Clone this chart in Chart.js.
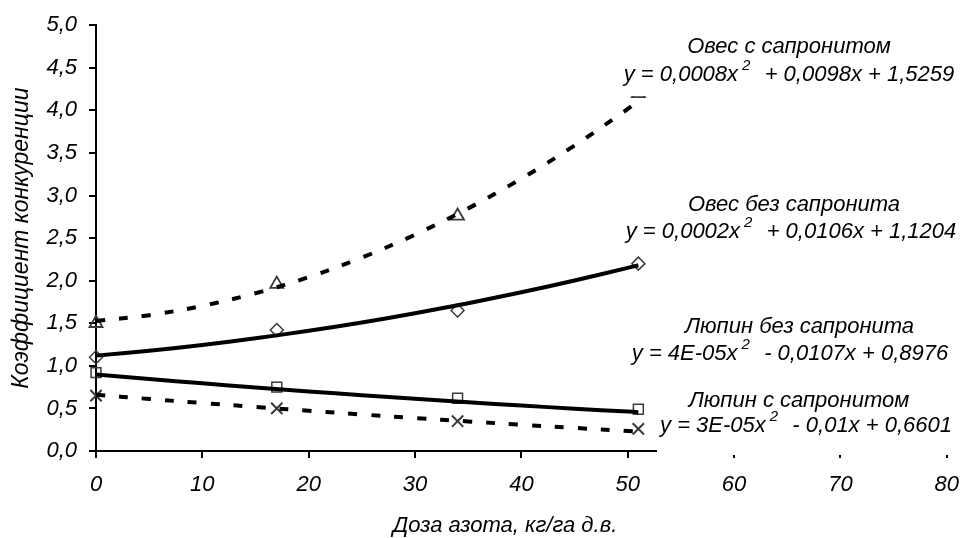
<!DOCTYPE html>
<html><head><meta charset="utf-8">
<script src="https://cdn.jsdelivr.net/npm/chart.js@4"></script>
<style>html,body{margin:0;padding:0;background:#fff}canvas{display:block}</style>
</head><body>
<canvas id="c" width="973" height="538"></canvas>
<script>
// ---- data ----
const doses = [0, 17, 34, 51];
const oatsWith = [1.50, 1.96, 2.76, 4.20];
const oatsWithout = [1.10, 1.42, 1.65, 2.20];
const lupineWithout = [0.92, 0.75, 0.62, 0.49];
const lupineWith = [0.65, 0.50, 0.35, 0.26];

const trendX = [0, 5, 10, 15, 20, 25, 30, 35, 40, 45, 50, 51];
const trendOatsWith = [1.526, 1.595, 1.704, 1.853, 2.042, 2.271, 2.540, 2.849, 3.198, 3.587, 4.016, 4.107];
const trendOatsWithout = [1.120, 1.178, 1.246, 1.324, 1.412, 1.510, 1.618, 1.736, 1.864, 2.002, 2.150, 2.181];
const trendLupineWithout = [0.898, 0.845, 0.795, 0.746, 0.700, 0.655, 0.613, 0.572, 0.534, 0.497, 0.463, 0.456];
const trendLupineWith = [0.660, 0.611, 0.563, 0.517, 0.472, 0.429, 0.387, 0.347, 0.308, 0.271, 0.235, 0.228];

const xMin = 0, xMax = 80, xStep = 10;
const yMin = 0, yMax = 5, yStep = 0.5;

const seriesNames = ['Овес с сапронитом', 'Овес без сапронита', 'Люпин без сапронита', 'Люпин с сапронитом'];
const equations = [
  ['y = 0,0008x', '2', '  + 0,0098x + 1,5259'],
  ['y = 0,0002x', '2', '  + 0,0106x + 1,1204'],
  ['y = 4E-05x', '2', '  - 0,0107x + 0,8976'],
  ['y = 3E-05x', '2', '  - 0,01x + 0,6601']
];
const xTitle = 'Доза азота, кг/га д.в.';
const yTitle = 'Коэффициент конкуренции';

// ---- build ----
const FONT = "'Liberation Sans', Arial, sans-serif";
const pts = (xs, ys) => xs.map((x, i) => ({x: x, y: ys[i]}));

function trend(data, dashed) {
  return {
    type: 'line', data: pts(trendX, data), borderColor: '#000', borderWidth: 4,
    borderDash: dashed ? [9, 14] : [], pointRadius: 0, tension: 0.35, fill: false, clip: false
  };
}
function markers(data, style, r, bw) {
  return {
    type: 'scatter', data: pts(doses, data), showLine: false, clip: false,
    pointStyle: style, pointRadius: r, pointHoverRadius: r,
    pointBackgroundColor: 'rgba(0,0,0,0)', pointBorderColor: '#3a3a3a', pointBorderWidth: bw
  };
}

const labelLayout = [
  {tx: 789, ty: 44.5, ex: 789, ey: 72.5, box: [618, 18, 355, 78]},
  {tx: 794, ty: 203, ex: 791, ey: 229.5, box: [620, 182, 353, 68]},
  {tx: 799.5, ty: 325, ex: 790, ey: 351.5, box: [620, 306, 353, 66]},
  {tx: 799, ty: 398.5, ex: 806, ey: 423.5, box: [657, 381, 316, 74]}
];
const xTitlePos = {x: 505, y: 524};

const annot = {
  id: 'annot',
  afterDraw(chart) {
    const ctx = chart.ctx;
    ctx.save();
    const main = 'italic 22px ' + FONT;
    const sup = 'italic 15px ' + FONT;
    labelLayout.forEach((L, i) => {
      ctx.fillStyle = '#fff';
      ctx.fillRect(L.box[0], L.box[1], L.box[2], L.box[3]);
      ctx.fillStyle = '#000';
      ctx.textBaseline = 'alphabetic';
      ctx.font = main;
      ctx.textAlign = 'center';
      ctx.fillText(seriesNames[i], L.tx, L.ty + 8);
      const [a, s, b] = equations[i];
      ctx.font = main; const wa = ctx.measureText(a).width, wb = ctx.measureText(b).width;
      ctx.font = sup; const ws = ctx.measureText(s).width;
      const gap = 4;
      const total = wa + gap + ws + wb + 2;
      let x = L.ex - total / 2;
      const base = L.ey + 8;
      ctx.textAlign = 'left';
      ctx.font = main; ctx.fillText(a, x, base); x += wa + gap;
      ctx.font = sup; ctx.fillText(s, x, base - 11); x += ws + 2;
      ctx.font = main; ctx.fillText(b, x, base);
    });
    // x-axis title
    ctx.fillStyle = '#000';
    ctx.font = main;
    ctx.textAlign = 'center';
    ctx.textBaseline = 'alphabetic';
    ctx.fillText(xTitle, xTitlePos.x, xTitlePos.y + 8);
    ctx.restore();
  }
};

new Chart(document.getElementById('c'), {
  data: {
    datasets: [
      trend(trendOatsWith, true),
      trend(trendOatsWithout, false),
      trend(trendLupineWithout, false),
      trend(trendLupineWith, true),
      markers(oatsWith, 'triangle', 7.5, 1.8),
      markers(oatsWithout, 'rectRot', 6.5, 1.5),
      markers(lupineWithout, 'rect', 7, 1.5),
      markers(lupineWith, 'crossRot', 8, 2)
    ]
  },
  options: {
    responsive: false, animation: false, devicePixelRatio: 1,
    layout: {padding: {top: 25, right: 17, left: 0, bottom: 0}},
    plugins: {legend: {display: false}, tooltip: {enabled: false}},
    scales: {
      x: {
        type: 'linear', min: xMin, max: xMax,
        afterFit: s => { s.height = 87; },
        ticks: {stepSize: xStep, color: '#000', padding: 14, font: {family: FONT, size: 22, style: 'italic'}},
        grid: {drawOnChartArea: false, drawTicks: true, tickLength: 7, color: '#000', lineWidth: 2},
        border: {color: '#000', width: 2},
        title: {display: false, text: xTitle}
      },
      y: {
        type: 'linear', min: yMin, max: yMax,
        afterFit: s => { s.width = 96; },
        ticks: {stepSize: yStep, color: '#000', padding: 12,
                callback: v => v.toFixed(1).replace('.', ','),
                font: {family: FONT, size: 22, style: 'italic'}},
        grid: {drawOnChartArea: false, drawTicks: true, tickLength: 7, color: '#000', lineWidth: 2},
        border: {color: '#000', width: 2},
        title: {display: true, text: yTitle, color: '#000', padding: {top: 8, bottom: 0},
                font: {family: FONT, size: 23, style: 'italic', lineHeight: 1.2}}
      }
    }
  },
  plugins: [annot]
});
</script>
</body></html>
